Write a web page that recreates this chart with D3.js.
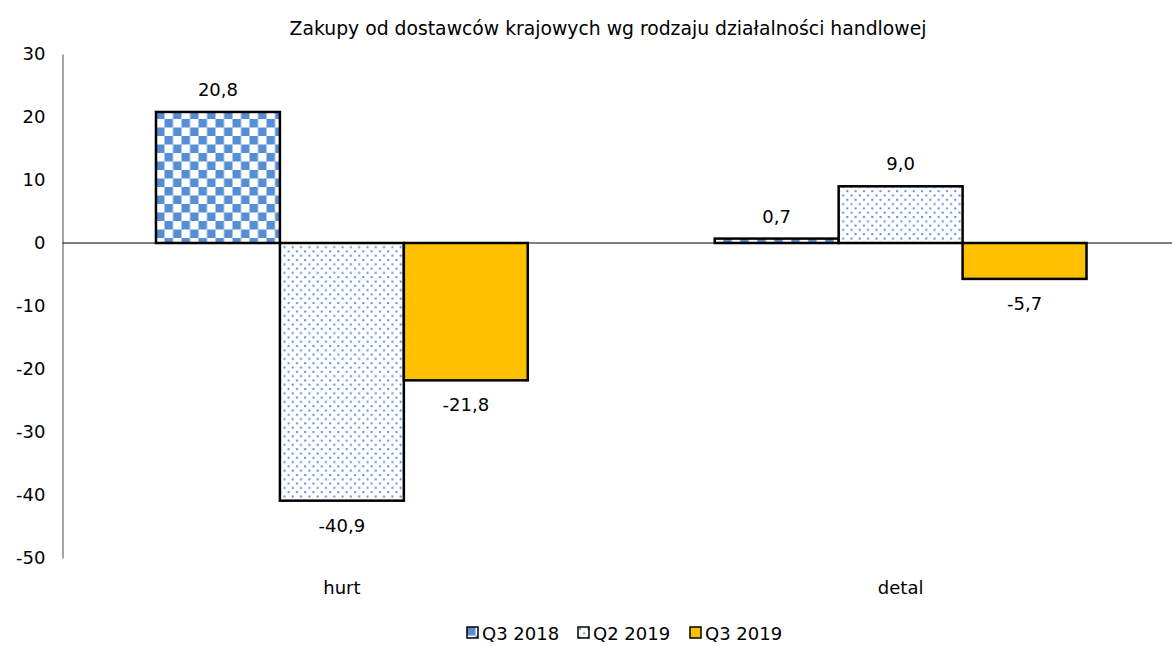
<!DOCTYPE html>
<html>
<head>
<meta charset="utf-8">
<script src="https://cdn.jsdelivr.net/npm/d3@7"></script>
<style>
  body { margin: 0; background: #fff; }
  svg { display: block; font-family: "DejaVu Sans", Verdana, sans-serif; }
</style>
</head>
<body>
<svg id="chart" width="1172" height="646"></svg>
<script>
const title = "Zakupy od dostawców krajowych wg rodzaju działalności handlowej";
const categories = ["hurt", "detal"];
const seriesNames = ["Q3 2018", "Q2 2019", "Q3 2019"];
const q3_2018 = [20.8, 0.7];
const q2_2019 = [-40.9, 9.0];
const q3_2019 = [-21.8, -5.7];
const yTicks = [30, 20, 10, 0, -10, -20, -30, -40, -50];

const seriesValues = [q3_2018, q2_2019, q3_2019];
const fills = ["url(#checker)", "url(#dots)", "#FFC000"];

const width = 1172;
const height = 646;
const margin = { top: 54, right: -8, bottom: 88, left: 62.5 };

const fmt = (v) => d3.format(".1f")(v).replace(".", ",").replace("\u2212", "-");

const svg = d3.select("#chart");
const defs = svg.append("defs");

// checkerboard pattern
const checker = defs.append("pattern")
  .attr("id", "checker")
  .attr("patternUnits", "userSpaceOnUse")
  .attr("width", 17).attr("height", 17);
checker.append("rect").attr("width", 17).attr("height", 17).attr("fill", "#fff");
checker.append("rect").attr("width", 8.5).attr("height", 8.5).attr("fill", "#558ED5");
checker.append("rect").attr("x", 8.5).attr("y", 8.5).attr("width", 8.5).attr("height", 8.5).attr("fill", "#558ED5");

// dotted pattern
const dots = defs.append("pattern")
  .attr("id", "dots")
  .attr("patternUnits", "userSpaceOnUse")
  .attr("width", 8.3).attr("height", 8.6);
dots.append("rect").attr("width", 8.3).attr("height", 8.6).attr("fill", "#fff");
dots.append("rect").attr("x", 1).attr("y", 1).attr("width", 2).attr("height", 2).attr("fill", "#5B8FD8");
dots.append("rect").attr("x", 5.15).attr("y", 5.3).attr("width", 2).attr("height", 2).attr("fill", "#5B8FD8");

const x0 = d3.scaleBand()
  .domain(categories)
  .range([margin.left, width - margin.right]);

const bandW = x0.bandwidth();
const x1 = d3.scaleBand()
  .domain(seriesNames)
  .range([bandW * 0.1673, bandW * 0.8327]);

const y = d3.scaleLinear()
  .domain([-50, 30])
  .range([height - margin.bottom, margin.top]);

// title
svg.append("text")
  .attr("x", 608)
  .attr("y", 35)
  .attr("text-anchor", "middle")
  .attr("font-size", 18.8)
  .attr("fill", "#000")
  .text(title);

// y axis
const yAxis = svg.append("g")
  .attr("transform", `translate(${margin.left},0)`)
  .call(d3.axisLeft(y).tickValues(yTicks).tickSize(0).tickPadding(17)
    .tickFormat((d) => String(d)));
yAxis.select(".domain").attr("stroke", "#868686").attr("stroke-width", 1.5);
yAxis.selectAll("text")
  .attr("font-size", 18)
  .attr("font-family", "DejaVu Sans, Verdana, sans-serif")
  .attr("fill", "#000");

// bars
const groups = svg.append("g")
  .selectAll("g")
  .data(categories)
  .join("g")
  .attr("transform", (d) => `translate(${x0(d)},0)`);

groups.selectAll("rect")
  .data((c, ci) => seriesNames.map((s, si) => ({ s, si, v: seriesValues[si][ci] })))
  .join("rect")
  .attr("x", (d) => x1(d.s))
  .attr("y", (d) => y(Math.max(0, d.v)))
  .attr("width", x1.bandwidth())
  .attr("height", (d) => Math.abs(y(d.v) - y(0)))
  .attr("fill", (d) => fills[d.si])
  .attr("stroke", "#000")
  .attr("stroke-width", 2.5);

// zero line
svg.append("line")
  .attr("x1", margin.left)
  .attr("x2", width)
  .attr("y1", y(0))
  .attr("y2", y(0))
  .attr("stroke", "#000")
  .attr("stroke-width", 1);

// data labels
groups.selectAll("text.lbl")
  .data((c, ci) => seriesNames.map((s, si) => ({ s, si, v: seriesValues[si][ci] })))
  .join("text")
  .attr("class", "lbl")
  .attr("x", (d) => x1(d.s) + x1.bandwidth() / 2)
  .attr("y", (d) => (d.v >= 0 ? y(d.v) - 16 : y(d.v) + 31))
  .attr("text-anchor", "middle")
  .attr("font-size", 18)
  .attr("fill", "#000")
  .text((d) => fmt(d.v));

// category labels
svg.append("g")
  .selectAll("text")
  .data(categories)
  .join("text")
  .attr("x", (d) => x0(d) + bandW / 2)
  .attr("y", 594)
  .attr("text-anchor", "middle")
  .attr("font-size", 18)
  .attr("fill", "#000")
  .text((d) => d);

// legend
const legendX = [467, 578, 690];
const legend = svg.append("g")
  .selectAll("g")
  .data(seriesNames)
  .join("g")
  .attr("transform", (d, i) => `translate(${legendX[i]},627)`);
legend.append("rect")
  .attr("width", 11)
  .attr("height", 11)
  .attr("fill", (d, i) => fills[i])
  .attr("stroke", "#000")
  .attr("stroke-width", 1.5);
legend.append("text")
  .attr("x", 15)
  .attr("y", 13)
  .attr("font-size", 18)
  .attr("fill", "#000")
  .text((d) => d);
</script>
</body>
</html>
